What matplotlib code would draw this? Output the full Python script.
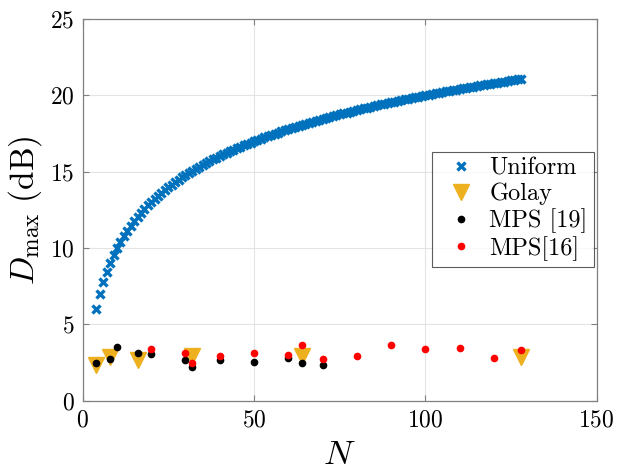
import matplotlib
matplotlib.use("Agg")
import matplotlib.pyplot as plt

plt.rcParams['font.family'] = 'serif'
plt.rcParams['font.serif'] = ['cmr10', 'DejaVu Serif']
plt.rcParams['mathtext.fontset'] = 'cm'
plt.rcParams['axes.formatter.use_mathtext'] = True

# Uniform
uniform_N = list(range(4, 129))
uniform_D = [6.02, 6.99, 7.78, 8.45, 9.03, 9.54, 10.00, 10.41, 10.79, 11.14,
             11.46, 11.76, 12.04, 12.30, 12.55, 12.79, 13.01, 13.22, 13.42, 13.62,
             13.80, 13.98, 14.15, 14.31, 14.47, 14.62, 14.77, 14.91, 15.05, 15.19,
             15.31, 15.44, 15.56, 15.68, 15.80, 15.91, 16.02, 16.13, 16.23, 16.33,
             16.43, 16.53, 16.63, 16.72, 16.81, 16.90, 16.99, 17.08, 17.16, 17.24,
             17.32, 17.40, 17.48, 17.56, 17.63, 17.71, 17.78, 17.85, 17.92, 17.99,
             18.06, 18.13, 18.20, 18.26, 18.33, 18.39, 18.45, 18.51, 18.57, 18.63,
             18.69, 18.75, 18.81, 18.86, 18.92, 18.98, 19.03, 19.08, 19.14, 19.19,
             19.24, 19.29, 19.34, 19.40, 19.44, 19.49, 19.54, 19.59, 19.64, 19.68,
             19.73, 19.78, 19.82, 19.87, 19.91, 19.96, 20.00, 20.04, 20.09, 20.13,
             20.17, 20.21, 20.25, 20.29, 20.33, 20.37, 20.41, 20.45, 20.49, 20.53,
             20.57, 20.61, 20.64, 20.68, 20.72, 20.76, 20.79, 20.83, 20.86, 20.90,
             20.93, 20.97, 21.00, 21.04, 21.07]

# Golay
golay_N = [4, 8, 16, 32, 64, 128]
golay_D = [2.35, 2.85, 2.65, 2.9, 2.95, 2.85]

# MPS [19]
mps19_N = [4, 8, 10, 16, 20, 30, 32, 40, 50, 60, 64, 70]
mps19_D = [2.45, 2.75, 3.5, 3.1, 3.05, 2.65, 2.2, 2.65, 2.55, 2.8, 2.5, 2.35]

# MPS[16]
mps16_N = [20, 30, 32, 40, 50, 60, 64, 70, 80, 90, 100, 110, 120, 128]
mps16_D = [3.4, 3.1, 2.5, 2.9, 3.1, 3.0, 3.65, 2.75, 2.95, 3.65, 3.4, 3.45, 2.8, 3.3]

fig = plt.figure(figsize=(6.17, 4.72), dpi=100)
ax = fig.add_axes([0.134, 0.151, 0.833, 0.809])

ax.plot(uniform_N, uniform_D, linestyle='none', marker='x', color='#0072BD',
        markersize=6, markeredgewidth=2.4, label='Uniform')
ax.plot(golay_N, golay_D, linestyle='none', marker='v', color='#EDB120',
        markersize=11, label='Golay')
ax.plot(mps19_N, mps19_D, linestyle='none', marker='o', color='black',
        markersize=4.5, label='MPS [19]')
ax.plot(mps16_N, mps16_D, linestyle='none', marker='o', color='red',
        markersize=4.5, label='MPS[16]')

ax.set_xlim(0, 150)
ax.set_ylim(0, 25)
ax.set_xticks([0, 50, 100, 150])
ax.set_yticks([0, 5, 10, 15, 20, 25])
ax.grid(True, color='#e3e3e3', linewidth=0.8)
ax.set_axisbelow(True)
ax.tick_params(direction='in', length=4, width=0.8, colors='#808080',
               labelcolor='black', labelsize=17, top=True, right=True, pad=6)
for s in ax.spines.values():
    s.set_color('#808080')
    s.set_linewidth(0.9)

ax.set_xlabel(r'$N$', fontsize=25, labelpad=6)
ax.set_ylabel(r'$D_{\max}\ \mathrm{(dB)}$', fontsize=24, labelpad=4)

leg = ax.legend(loc='upper left', bbox_to_anchor=(0.68, 0.652), fontsize=17.5,
                frameon=True, fancybox=False, edgecolor='#333333',
                borderpad=0.25, handletextpad=0.2, labelspacing=0.12,
                handlelength=1.9, borderaxespad=0)
leg.get_frame().set_linewidth(0.8)

fig.savefig('out.png', dpi=100)
